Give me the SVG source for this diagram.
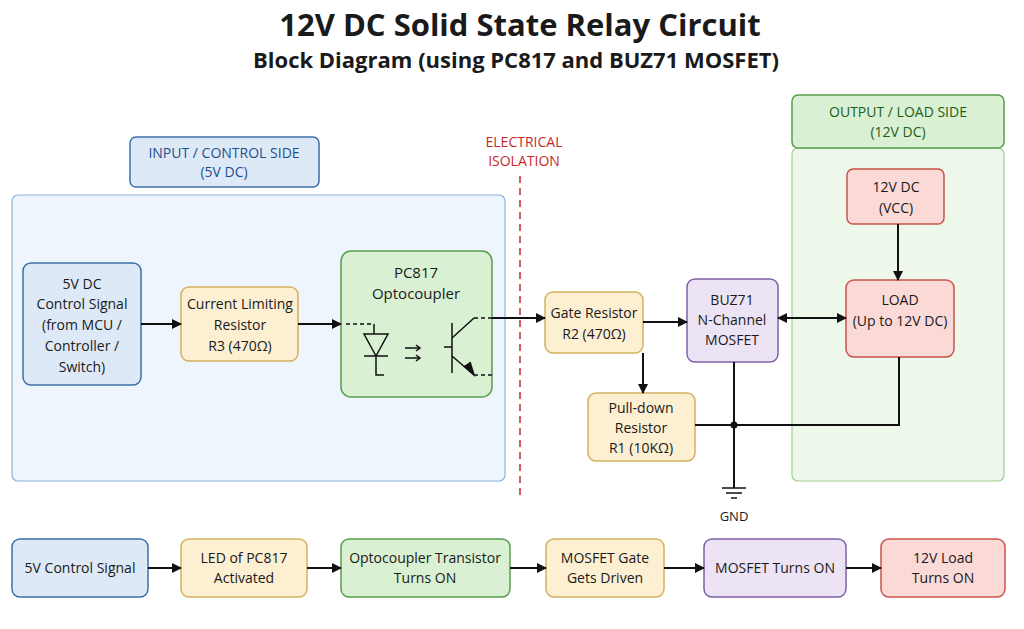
<svg xmlns="http://www.w3.org/2000/svg" width="1024" height="629" viewBox="0 0 1024 629">
<defs>
<marker id="ah" markerWidth="10" markerHeight="10" refX="9" refY="5" orient="auto" markerUnits="userSpaceOnUse"><path d="M0,0 L10,5 L0,10 z" fill="#111"/></marker>
<marker id="as" markerWidth="10" markerHeight="10" refX="1" refY="5" orient="auto" markerUnits="userSpaceOnUse"><path d="M10,0 L0,5 L10,10 z" fill="#111"/></marker>
</defs>
<style>
text{font-family:"Open Sans","Liberation Sans",sans-serif;fill:#1a1a1a;text-anchor:middle}
.t{font-size:14px;font-weight:500}
.blue{fill:#dde9f7;stroke:#3d6fa8;stroke-width:1.5}
.yel{fill:#fcefd2;stroke:#d2b160;stroke-width:1.5}
.grn{fill:#d9f0d3;stroke:#5a9c4e;stroke-width:1.5}
.pur{fill:#ece3f5;stroke:#8060a8;stroke-width:1.5}
.red{fill:#fad9d6;stroke:#c8534b;stroke-width:1.5}
.ln{stroke:#111;stroke-width:2;fill:none}
</style>
<rect width="1024" height="629" fill="#fff"/>
<text x="520" y="36" style="font-size:31px;font-weight:bold">12V DC Solid State Relay Circuit</text>
<text x="516" y="68" style="font-size:22px;font-weight:bold">Block Diagram (using PC817 and BUZ71 MOSFET)</text>

<g id="input-area">
<rect x="12" y="195" width="493" height="286" rx="6" fill="#eef5fc" stroke="#8db3dc" stroke-width="1.2"/>
<rect x="130" y="137" width="189" height="50" rx="6" class="blue"/>
<text x="224" y="158" class="t" style="fill:#1d4f8c">INPUT / CONTROL SIDE</text>
<text x="224" y="177" class="t" style="fill:#1d4f8c">(5V DC)</text>
</g>
<g id="output-area">
<rect x="792" y="148" width="212" height="333" rx="6" fill="#eef8ea" stroke="#9fd093" stroke-width="1.2"/>
<rect x="792" y="95" width="212" height="53" rx="6" class="grn"/>
<text x="898" y="117" class="t" style="fill:#1f5d1a">OUTPUT / LOAD SIDE</text>
<text x="898" y="137" class="t" style="fill:#1f5d1a">(12V DC)</text>
</g>
<g id="isolation">
<text x="524" y="147" class="t" style="fill:#c62828">ELECTRICAL</text>
<text x="524" y="166" class="t" style="fill:#c62828">ISOLATION</text>
<line x1="520" y1="176" x2="520" y2="496" stroke="#c62828" stroke-width="1.5" stroke-dasharray="7,5"/>
</g>

<g id="ctrl"><rect x="23" y="263" width="118" height="122" rx="8" class="blue"/>
<text x="82" y="289" class="t">5V DC</text><text x="82" y="309" class="t">Control Signal</text><text x="82" y="330" class="t">(from MCU /</text><text x="82" y="351" class="t">Controller /</text><text x="82" y="372" class="t">Switch)</text></g>
<g id="r3"><rect x="181" y="287" width="117" height="74" rx="8" class="yel"/>
<text x="240" y="309" class="t">Current Limiting</text><text x="240" y="330" class="t">Resistor</text><text x="240" y="351" class="t">R3 (470Ω)</text></g>
<g id="pc817"><rect x="341" y="251" width="151" height="146" rx="10" class="grn"/>
<text x="416" y="278" style="font-size:15px;font-weight:500">PC817</text><text x="416" y="299" style="font-size:15px;font-weight:500">Optocoupler</text>
<g stroke="#111" stroke-width="1.5" fill="none">
<path d="M346,324 H374" stroke-dasharray="4,3"/>
<path d="M374,324 V334 M364,334 H388 L376,356 Z M364,356 H388 M376,356 V375 H384" />
<path d="M405,348 H420 M405,358 H420"/><path d="M416,345 L420,348 L416,351 M416,355 L420,358 L416,361"/>
<path d="M444,347 H452 M452,323 V373 M452,338 L474,318 M452,356 L474,375"/>
<path d="M474,318 H492 M474,375 H492" stroke-dasharray="4,3"/>
<path d="M464,366 L474,375 L470,362" fill="#111"/>
</g></g>
<g id="r2"><rect x="545" y="292" width="98" height="61" rx="8" class="yel"/>
<text x="594" y="318" class="t">Gate Resistor</text><text x="594" y="339" class="t">R2 (470Ω)</text></g>
<g id="buz71"><rect x="687" y="279" width="91" height="83" rx="8" class="pur"/>
<text x="732" y="305" class="t">BUZ71</text><text x="732" y="325" class="t">N-Channel</text><text x="732" y="345" class="t">MOSFET</text></g>
<g id="r1"><rect x="588" y="393" width="107" height="68" rx="8" class="yel"/>
<text x="641" y="413" class="t">Pull-down</text><text x="641" y="433" class="t">Resistor</text><text x="641" y="453" class="t">R1 (10KΩ)</text></g>
<g id="vcc"><rect x="847" y="169" width="97" height="55" rx="6" class="red"/>
<text x="896" y="192" class="t">12V DC</text><text x="896" y="213" class="t">(VCC)</text></g>
<g id="load"><rect x="846" y="280" width="108" height="77" rx="8" class="red"/>
<text x="900" y="305" class="t">LOAD</text><text x="900" y="326" class="t">(Up to 12V DC)</text></g>
<g id="gnd"><path d="M722,488 H746 M726,493 H742 M731,498 H737" stroke="#111" stroke-width="1.5"/>
<text x="734" y="521" style="font-size:13px;font-weight:500">GND</text></g>

<g id="flow">
<rect x="12" y="539" width="136" height="58" rx="8" class="blue"/><text x="80" y="573" class="t">5V Control Signal</text>
<rect x="181" y="539" width="126" height="58" rx="8" class="yel"/><text x="244" y="563" class="t">LED of PC817</text><text x="244" y="583" class="t">Activated</text>
<rect x="341" y="539" width="169" height="58" rx="8" class="grn"/><text x="425" y="563" class="t">Optocoupler Transistor</text><text x="425" y="583" class="t">Turns ON</text>
<rect x="546" y="539" width="118" height="58" rx="8" class="yel"/><text x="605" y="563" class="t">MOSFET Gate</text><text x="605" y="583" class="t">Gets Driven</text>
<rect x="704" y="539" width="142" height="58" rx="8" class="pur"/><text x="775" y="573" class="t">MOSFET Turns ON</text>
<rect x="881" y="539" width="124" height="58" rx="8" class="red"/><text x="943" y="563" class="t">12V Load</text><text x="943" y="583" class="t">Turns ON</text>
</g>

<g id="connectors" class="ln">
<line x1="141" y1="324" x2="181" y2="324" marker-end="url(#ah)"/>
<line x1="298" y1="324" x2="341" y2="324" marker-end="url(#ah)"/>
<line x1="492" y1="318" x2="545" y2="318" marker-end="url(#ah)"/>
<line x1="643" y1="322" x2="687" y2="322" marker-end="url(#ah)"/>
<line x1="643" y1="353" x2="643" y2="393" marker-end="url(#ah)"/>
<line x1="778" y1="318" x2="846" y2="318" marker-start="url(#as)" marker-end="url(#ah)"/>
<line x1="898" y1="224" x2="898" y2="280" marker-end="url(#ah)"/>
<path d="M899,357 V425 H695"/>
<path d="M734,362 V488"/>
<circle cx="734" cy="425" r="3.5" fill="#111" stroke="none"/>
<line x1="148" y1="568" x2="181" y2="568" marker-end="url(#ah)"/>
<line x1="307" y1="568" x2="341" y2="568" marker-end="url(#ah)"/>
<line x1="510" y1="568" x2="546" y2="568" marker-end="url(#ah)"/>
<line x1="664" y1="568" x2="704" y2="568" marker-end="url(#ah)"/>
<line x1="846" y1="568" x2="881" y2="568" marker-end="url(#ah)"/>
</g>
</svg>
